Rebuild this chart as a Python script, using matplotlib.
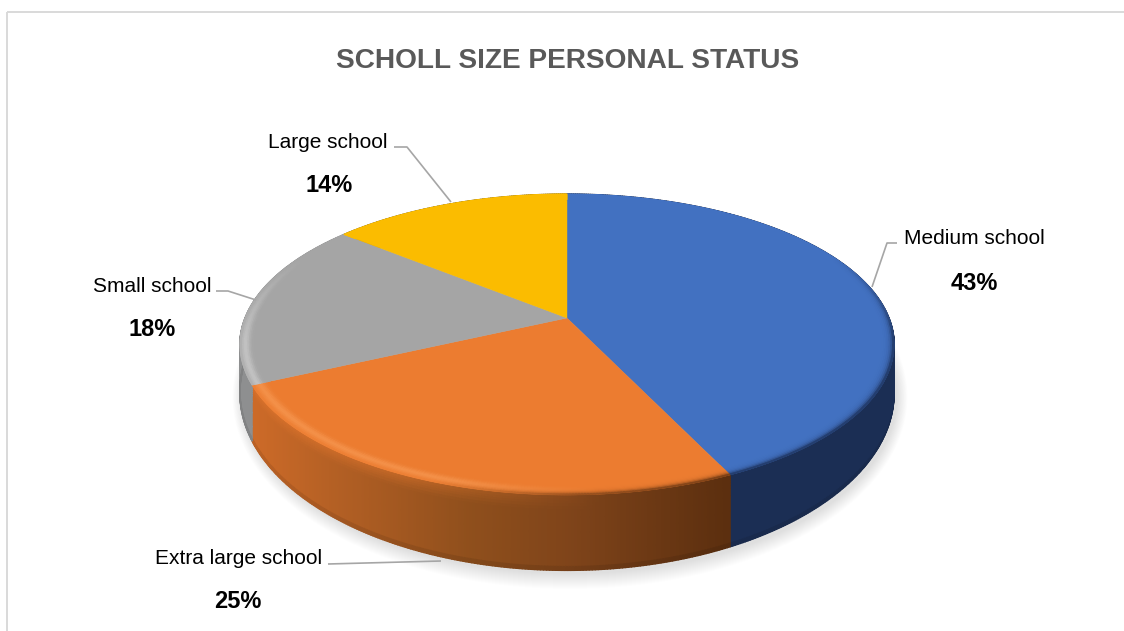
import numpy as np
import matplotlib
matplotlib.use('Agg')
import matplotlib.pyplot as plt
from matplotlib.collections import PolyCollection
from matplotlib.colors import to_rgb
from matplotlib.patches import Polygon, Rectangle

# slices, clockwise from 12 o'clock
categories = ['Medium school', 'Extra large school', 'Small school', 'Large school']
values = [43, 25, 18, 14]
colors = ['#4271c1', '#ec7c30', '#a5a5a5', '#fbbc00']
title = 'SCHOLL SIZE PERSONAL STATUS'

# where the labels sit, pixels
label_pos = [(974, 239), (239, 559), (152, 286), (328, 143)]
pct_pos = [(974, 283), (238, 602), (152, 330), (329, 186)]
leaders = [
    [(897, 243), (887, 243), (872, 287)],
    [(328, 564), (441, 561)],
    [(216, 291), (228, 291), (256, 300)],
    [(394, 147), (407, 147), (451, 202)],
]

plt.rcParams['font.family'] = ['Liberation Sans', 'DejaVu Sans']

# tilted disc, the same circle seen in perspective for top and bottom face
K = 0.176
A = 322.0


def project(t, r=1.0, y0=318.0, p=-89.8):
    sx, cy = r * np.sin(t), r * np.cos(t)
    d = 1 + K * cy
    return 567 + A * sx / d, (y0 + p * cy) / d


def top_xy(t, r=1.0):
    return project(t, r)


def bottom_xy(t):
    return project(t, 1.0, 362.0, -108.0)


def mix(a, b, w):
    return tuple(a[i] + (b[i] - a[i]) * w for i in range(3))


def side_color(i, x):
    if i == 0:
        return to_rgb('#1b2e54')
    if i == 1:
        c = [to_rgb(s) for s in ['#cc6a28', '#b25f24', '#8f4f1c', '#7f441a', '#5c2f0f']]
        xs = [255, 340, 470, 570, 725]
        return tuple(np.interp(x, xs, [v[j] for v in c]) for j in range(3))
    if i == 2:
        return to_rgb('#8e8f90')
    return to_rgb('#9a7400')


fig = plt.figure(figsize=(11.24, 6.31), dpi=100)
ax = fig.add_axes([0, 0, 1, 1])
ax.set_xlim(0, 1124)
ax.set_ylim(631, 0)
ax.axis('off')

# chart frame, only its top and left edge are inside the picture
ax.add_patch(Rectangle((7, 12), 1300, 640, fill=False, ec='#d9d9d9', lw=1.4, zorder=1))

# soft shadow under the disc
tt = np.linspace(0, 2 * np.pi, 361)
for d in range(15, -1, -1):
    sx = 570 + (327 + d * 0.7) * np.sin(tt)
    sy = 397 + (177 + d) * np.cos(tt)
    ax.add_patch(Polygon(np.c_[sx, sy], fc='black', ec='none', alpha=0.0095, zorder=2))

edges = np.cumsum([0] + values) / sum(values) * 2 * np.pi

# side wall
rows = np.array([0, .03, .06, .09, .12, .16, .2, .3, .5, .75, .95, 1.0])
polys, cols = [], []
for i in range(len(values)):
    ts = np.linspace(edges[i], edges[i + 1], int(values[i] * 8) + 2)
    for a, b in zip(ts[:-1], ts[1:]):
        xa0, ya0 = top_xy(a)
        xb0, yb0 = top_xy(b)
        xa1, ya1 = bottom_xy(a)
        xb1, yb1 = bottom_xy(b)
        xm = (xa0 + xb0) / 2
        base = side_color(i, xm)
        # only the lit left part of the orange wall keeps some glow at its top
        glow = 0.0
        if i == 1:
            glow = 0.45 * np.clip((600 - xm) / 200, 0, 1)
        for u0, u1 in zip(rows[:-1], rows[1:]):
            polys.append([
                (xa0 + (xa1 - xa0) * u0, ya0 + (ya1 - ya0) * u0),
                (xb0 + (xb1 - xb0) * u0, yb0 + (yb1 - yb0) * u0),
                (xb0 + (xb1 - xb0) * u1, yb0 + (yb1 - yb0) * u1),
                (xa0 + (xa1 - xa0) * u1, ya0 + (ya1 - ya0) * u1),
            ])
            um = (u0 + u1) / 2
            c = mix(base, to_rgb(colors[i]), glow * (1 - min(1, um / 0.2)))
            if um > 0.9:
                c = mix(c, (0, 0, 0), 0.12 * (um - 0.9) / 0.1)
            cols.append(c)
ax.add_collection(PolyCollection(polys, facecolors=cols, edgecolors=cols, linewidths=1.0, zorder=3))

# top face
for i in range(len(values)):
    ts = np.linspace(edges[i], edges[i + 1], int(values[i] * 8) + 2)
    x, y = top_xy(ts)
    cx, cy = top_xy(0.0, 0.0)
    ax.add_patch(Polygon(np.r_[[(cx, cy)], np.c_[x, y]], fc=colors[i], ec=colors[i], lw=0.3, zorder=4))

# bevel along the front rim
radii = np.linspace(0.945, 1.0, 12)
polys, cols = [], []
for i in range(len(values)):
    ts = np.linspace(edges[i], edges[i + 1], int(values[i] * 8) + 2)
    for a, b in zip(ts[:-1], ts[1:]):
        front = np.clip((0.45 - np.cos((a + b) / 2)) / 0.6, 0, 1)
        xm = top_xy((a + b) / 2)[0]
        for r0, r1 in zip(radii[:-1], radii[1:]):
            polys.append([top_xy(a, r0), top_xy(b, r0), top_xy(b, r1), top_xy(a, r1)])
            v = ((r0 + r1) / 2 - 0.945) / 0.055
            c = to_rgb(colors[i])
            if i == 0:
                c = mix(c, side_color(0, xm), front * v ** 6)
            elif i == 1:
                shine = np.exp(-((v - 0.62) / 0.28) ** 2) * np.clip((600 - xm) / 150, 0, 1)
                c = mix(c, (1.0, 0.68, 0.42), 0.42 * shine)
                c = mix(c, side_color(1, xm), v ** 6 * np.clip((xm - 430) / 150, 0, 1))
            elif i == 2:
                shine = np.exp(-((v - 0.72) / 0.25) ** 2)
                c = mix(c, (0.88, 0.88, 0.88), 0.5 * shine * front)
            cols.append(c)
ax.add_collection(PolyCollection(polys, facecolors=cols, edgecolors=cols, linewidths=0.6, zorder=5))

ax.text(567.5, 61, title, ha='center', va='center', fontsize=20.2, fontweight='bold', color='#595959', zorder=8)

for i in range(len(values)):
    ax.text(label_pos[i][0], label_pos[i][1], categories[i], ha='center', va='center',
            fontsize=15, color='#000000', zorder=8)
    ax.text(pct_pos[i][0], pct_pos[i][1], '%d%%' % values[i], ha='center', va='center',
            fontsize=17, fontweight='bold', color='#000000', zorder=8)
    lx, ly = zip(*leaders[i])
    ax.plot(lx, ly, color='#a6a6a6', lw=1.2, zorder=7, solid_capstyle='butt')

fig.savefig('out.png', dpi=100)
